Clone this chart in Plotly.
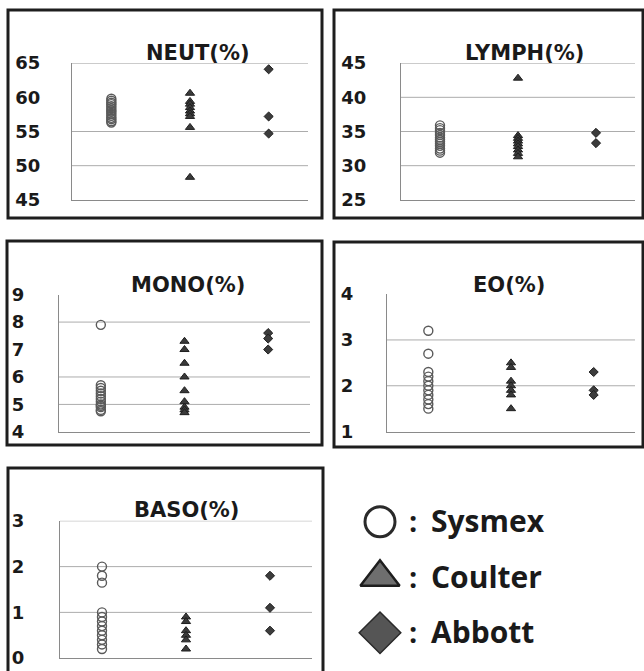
import plotly.graph_objects as go

# Analyzer names (x categories) and panel titles
ANALYZERS = ["Sysmex", "Coulter", "Abbott"]
PANEL_TITLES = ["NEUT(%)", "LYMPH(%)", "MONO(%)", "EO(%)", "BASO(%)"]

# Measured values per analyzer for each parameter
NEUT_SYSMEX = [59.8, 59.5, 59.2, 59.0, 58.7, 58.4, 58.1, 57.9, 57.6, 57.3, 57.0, 56.8, 56.5, 56.3]
NEUT_COULTER = [60.6, 59.4, 59.0, 58.5, 58.0, 57.6, 57.2, 55.6, 48.3]
NEUT_ABBOTT = [64.1, 57.2, 54.7]

LYMPH_SYSMEX = [35.9, 35.5, 35.2, 34.8, 34.5, 34.1, 33.8, 33.5, 33.2, 32.9, 32.5, 32.2, 31.9]
LYMPH_COULTER = [42.8, 34.4, 34.0, 33.6, 33.2, 32.8, 32.3, 31.8, 31.3]
LYMPH_ABBOTT = [34.8, 33.3]

MONO_SYSMEX = [7.9, 5.7, 5.6, 5.5, 5.4, 5.3, 5.2, 5.1, 5.0, 4.95, 4.9, 4.8, 4.75]
MONO_COULTER = [7.3, 7.0, 6.5, 6.0, 5.5, 5.1, 4.9, 4.8, 4.7]
MONO_ABBOTT = [7.6, 7.4, 7.0]

EO_SYSMEX = [3.2, 2.7, 2.3, 2.2, 2.1, 2.0, 1.9, 1.8, 1.7, 1.6, 1.5]
EO_COULTER = [2.5, 2.4, 2.1, 2.0, 1.9, 1.8, 1.5]
EO_ABBOTT = [2.3, 1.9, 1.8]

BASO_SYSMEX = [2.0, 1.8, 1.65, 1.0, 0.9, 0.8, 0.7, 0.6, 0.5, 0.4, 0.3, 0.2]
BASO_COULTER = [0.9, 0.8, 0.6, 0.5, 0.4, 0.2]
BASO_ABBOTT = [1.8, 1.1, 0.6]

# Y-axis ranges, tick step and drawn grid levels for each panel
Y_RANGES = [(45, 65), (25, 45), (4, 9), (1, 4), (0, 3)]
Y_DTICKS = [5, 5, 1, 1, 1]
GRID_LEVELS = [[65, 55, 50], [45, 40, 35, 30], [8, 6, 5], [3, 2], [3, 2, 1]]

PANEL_DATA = [
    (NEUT_SYSMEX, NEUT_COULTER, NEUT_ABBOTT),
    (LYMPH_SYSMEX, LYMPH_COULTER, LYMPH_ABBOTT),
    (MONO_SYSMEX, MONO_COULTER, MONO_ABBOTT),
    (EO_SYSMEX, EO_COULTER, EO_ABBOTT),
    (BASO_SYSMEX, BASO_COULTER, BASO_ABBOTT),
]

W, H = 644, 671


def fx(px):
    return px / W


def fy(py):
    return 1 - py / H


# Layout geometry in pixels: plot area (left, right, top, bottom), frame box, title center
PLOT_BOXES = [
    (72, 308, 63, 200),
    (401, 635, 63, 200),
    (59, 310, 294.5, 432),
    (387, 635, 294, 431.7),
    (60, 312, 520.7, 658.3),
]
FRAMES = [
    (8, 322, 10, 218),
    (334, 643, 10, 218),
    (7, 322, 241, 445),
    (334, 643, 242, 447),
    (8, 323, 468, 690),
]
TITLE_POS = [(198, 53), (524, 53), (188, 285), (509, 285), (186, 510)]
LABEL_STANDOFF = [27, 30, 30, 29, 31]

MARKERS = [
    dict(symbol="circle-open", size=9, color="#5a5a5a", line=dict(width=1.4, color="#5a5a5a")),
    dict(symbol="triangle-up", size=8, color="#3a3a3a", line=dict(width=1, color="#1e1e1e")),
    dict(symbol="diamond", size=7, color="#3c3c3c", line=dict(width=1, color="#1e1e1e")),
]

fig = go.Figure()
layout = dict(
    width=W, height=H,
    margin=dict(l=0, r=0, t=0, b=0, autoexpand=False),
    paper_bgcolor="white", plot_bgcolor="white",
    showlegend=False,
)
shapes = []
annotations = []

for i, (series, title) in enumerate(zip(PANEL_DATA, PANEL_TITLES)):
    n = i + 1
    xa = "x" if n == 1 else f"x{n}"
    ya = "y" if n == 1 else f"y{n}"
    for k, (name, vals) in enumerate(zip(ANALYZERS, series)):
        fig.add_trace(go.Scatter(
            x=[k + 1] * len(vals), y=vals, mode="markers", name=name,
            marker=MARKERS[k], xaxis=xa, yaxis=ya, hoverinfo="y+name",
        ))
    l, r, t, b = PLOT_BOXES[i]
    lo, hi = Y_RANGES[i]
    layout[f"xaxis{'' if n == 1 else n}"] = dict(
        domain=[fx(l), fx(r)], range=[0.5, 3.5], anchor=ya, automargin=False,
        showticklabels=False, ticks="", showgrid=False, zeroline=False,
        showline=True, linecolor="#8a8a8a", linewidth=1,
    )
    layout[f"yaxis{'' if n == 1 else n}"] = dict(
        domain=[fy(b), fy(t)], range=[lo - 0.001 * (hi - lo), hi + 0.001 * (hi - lo)],
        anchor=xa, dtick=Y_DTICKS[i], tick0=lo, ticks="", automargin=False,
        showgrid=False, zeroline=False,
        showline=True, linecolor="#8a8a8a", linewidth=1,
        tickfont=dict(family="DejaVu Sans", size=18, color="#1a1a1a", weight="bold"),
        ticklabelstandoff=LABEL_STANDOFF[i],
    )
    for lev in GRID_LEVELS[i]:
        shapes.append(dict(
            type="line", xref=f"{xa} domain", yref=ya, x0=0, x1=1, y0=lev, y1=lev,
            line=dict(color="#acacac", width=1), layer="below",
        ))
    fl, fr, ft, fb = FRAMES[i]
    shapes.append(dict(
        type="rect", xref="paper", yref="paper",
        x0=fx(fl), x1=fx(fr), y0=fy(fb), y1=fy(ft),
        line=dict(color="#1e1e1e", width=3),
    ))
    tx, ty = TITLE_POS[i]
    annotations.append(dict(
        text=title, xref="paper", yref="paper", x=fx(tx), y=fy(ty),
        xanchor="center", yanchor="middle", showarrow=False,
        font=dict(family="DejaVu Sans", size=21, color="#1a1a1a", weight="bold"),
    ))

# Key for the three analyzers, drawn on its own hidden axis
KEY_MARKERS = [
    dict(symbol="circle-open", size=30, color="#2a2a2a", line=dict(width=3, color="#2a2a2a")),
    dict(symbol="triangle-up", size=34, color="#6e6e6e", line=dict(width=2.5, color="#1e1e1e")),
    dict(symbol="diamond", size=32, color="#555555", line=dict(width=1.5, color="#2a2a2a")),
]
for k, name in enumerate(ANALYZERS):
    fig.add_trace(go.Scatter(
        x=[0.5], y=[k], mode="markers", marker=KEY_MARKERS[k], name=name,
        xaxis="x6", yaxis="y6", hoverinfo="name",
    ))
    annotations.append(dict(
        text=":", xref="paper", yref="y6", x=fx(407), y=k,
        xanchor="left", yanchor="middle", showarrow=False, yshift=1,
        font=dict(family="Open Sans", size=29, color="#1a1a1a", weight="bold"),
    ))
    annotations.append(dict(
        text=name, xref="paper", yref="y6", x=fx(429), y=k,
        xanchor="left", yanchor="middle", showarrow=False, yshift=1,
        font=dict(family="Open Sans", size=30, color="#1a1a1a", weight="bold"),
    ))
layout["xaxis6"] = dict(domain=[fx(340), fx(420)], range=[0, 1], visible=False,
                        anchor="y6", automargin=False)
layout["yaxis6"] = dict(domain=[fy(660.5), fy(494)], range=[2.5, -0.5], visible=False,
                        anchor="x6", automargin=False)

layout["shapes"] = shapes
layout["annotations"] = annotations
fig.update_layout(**layout)

fig.write_html("out.html")
